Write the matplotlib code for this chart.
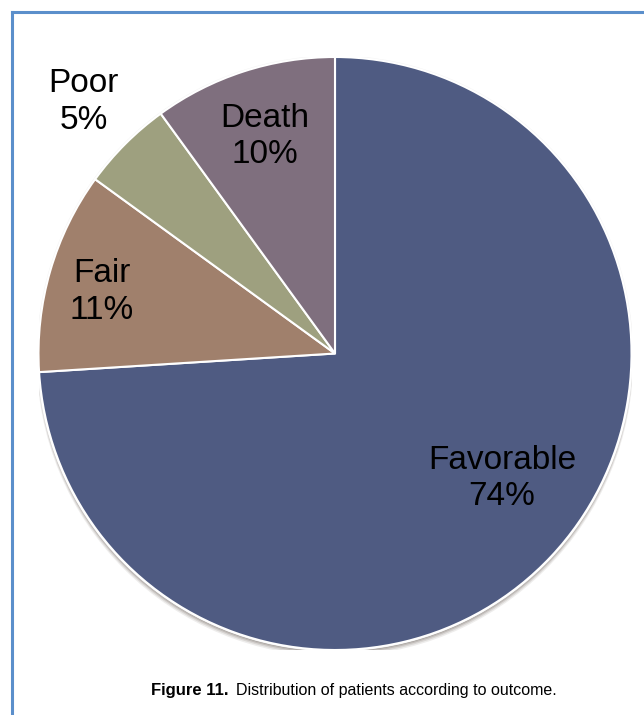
import numpy as np
import matplotlib.pyplot as plt
from matplotlib.lines import Line2D
from matplotlib.patches import Circle

plt.rcParams['font.family'] = ['Liberation Sans', 'DejaVu Sans']

# data
outcomes = ['Favorable', 'Fair', 'Poor', 'Death']
shares = [74, 11, 5, 10]
colours = ['#4f5b82', '#a0806c', '#9ea07f', '#7f6f7e']
# label placement: radius (fraction of pie radius) and angle nudge (deg)
label_r = [0.704, 0.813, 1.20, 0.77]
label_nudge = [6.4, 1.4, 0.0, 0.0]

fig = plt.figure(figsize=(6.44, 7.15), dpi=100)
ax = fig.add_axes([38.5 / 644, 65 / 715, 593 / 644, 593 / 715])

# soft shadow under the pie, mostly to the bottom
for k, a in enumerate([0.10, 0.14, 0.20, 0.28]):
    off = 0.016 - 0.003 * k
    ax.add_patch(Circle((0.0, -off), 1.0 + 0.002 * (3 - k),
                        color='#5a5048', alpha=a, lw=0, zorder=0))
ax.add_patch(Circle((0, 0), 1.005, color='#f4f4f4', lw=0, zorder=0.5))

wedges, _ = ax.pie(shares, colors=colours, startangle=90, counterclock=False,
                   radius=1.0,
                   wedgeprops=dict(edgecolor='white', linewidth=1.5))

for w, name, val, r, d in zip(wedges, outcomes, shares, label_r, label_nudge):
    mid = np.deg2rad((w.theta1 + w.theta2) / 2 + d)
    ax.text(r * np.cos(mid), r * np.sin(mid), f'{name}\n{val}%',
            ha='center', va='center', fontsize=24, color='black',
            linespacing=1.22, zorder=5)

ax.set_xlim(-1, 1)
ax.set_ylim(-1, 1)
ax.set_aspect('equal')
ax.axis('off')

# frame lines (blue) at top and left
blue = '#5b8fcb'
fig.add_artist(Line2D([12 / 644, 1.0], [1 - 12 / 715, 1 - 12 / 715],
                      color=blue, lw=2.2, transform=fig.transFigure))
fig.add_artist(Line2D([12 / 644, 12 / 644], [0, 1 - 12 / 715],
                      color=blue, lw=2.2, transform=fig.transFigure))

# caption
fig.text(229 / 644, 1 - 690 / 715, 'Figure 11.', ha='right', va='center',
         fontsize=12, fontweight='bold')
fig.text(236 / 644, 1 - 690 / 715, 'Distribution of patients according to outcome.',
         ha='left', va='center', fontsize=11.5)

fig.savefig('out.png', dpi=100)
